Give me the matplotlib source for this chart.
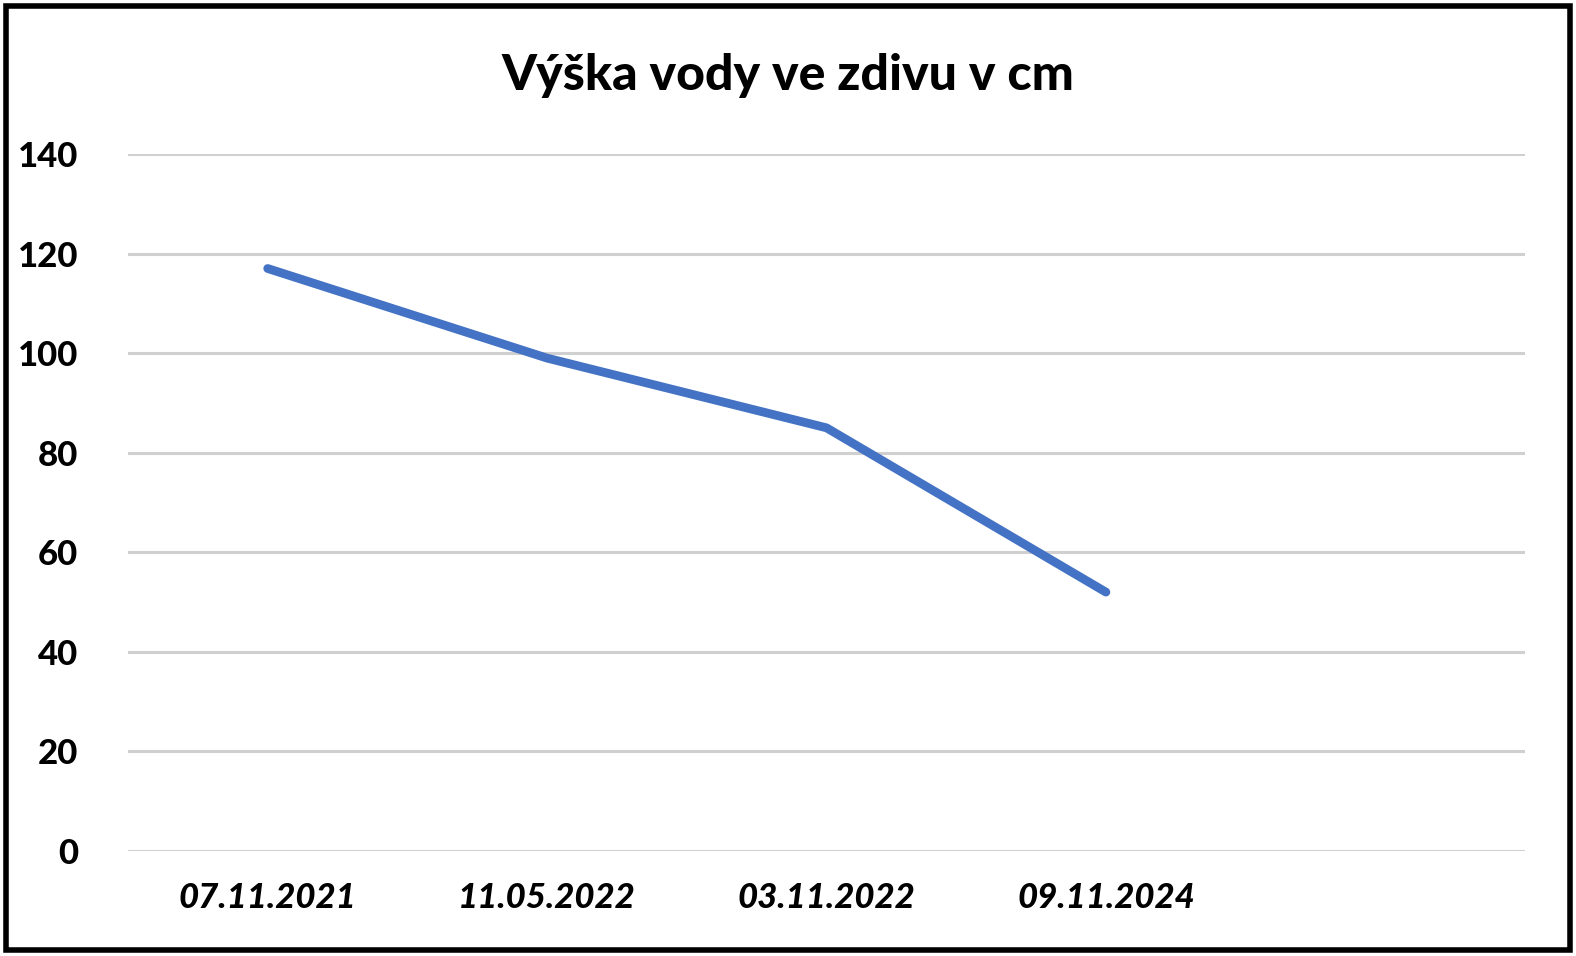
import matplotlib
matplotlib.use("Agg")
import matplotlib.pyplot as plt
from matplotlib.patches import Rectangle

# data
dates = ["07.11.2021", "11.05.2022", "03.11.2022", "09.11.2024"]
heights = [117, 99, 85, 52]
yticks = [0, 20, 40, 60, 80, 100, 120, 140]
title = "Výška vody ve zdivu v cm"

plt.rcParams["font.family"] = ["Lato", "DejaVu Sans"]

W, H = 1576, 956
fig = plt.figure(figsize=(W / 100, H / 100), dpi=100)
ax = fig.add_axes([128 / W, 1 - 851 / H, (1525 - 128) / W, (851 - 154) / H])

x = list(range(len(dates)))
ax.plot(x, heights, color="#4472C4", lw=6.3, solid_capstyle="round",
        solid_joinstyle="round", zorder=3)

ax.set_xlim(-0.5, len(dates) + 0.5)
ax.set_ylim(0, 140)
ax.set_yticks(yticks)
ax.set_xticks(x)
ax.set_xticklabels(dates, fontsize=25, fontweight=900, fontstyle="italic")
for lbl in ax.get_yticklabels():
    lbl.set_fontsize(25)
    lbl.set_fontweight(900)
ax.tick_params(axis="both", length=0)
ax.tick_params(axis="y", pad=36)
ax.tick_params(axis="x", pad=22)
ax.grid(axis="y", color="#d0d0d0", lw=2.2)
ax.set_axisbelow(True)
for s in ax.spines.values():
    s.set_visible(False)

fig.text(0.5, 1 - 75 / H, title, ha="center", va="center",
         fontsize=36, fontweight=900)

# black outer frame
fig.patches.append(Rectangle((6 / W, 6 / H), (W - 12) / W, (H - 12) / H,
                             transform=fig.transFigure, fill=False,
                             edgecolor="black", lw=4))

fig.savefig("out.png", dpi=100)
